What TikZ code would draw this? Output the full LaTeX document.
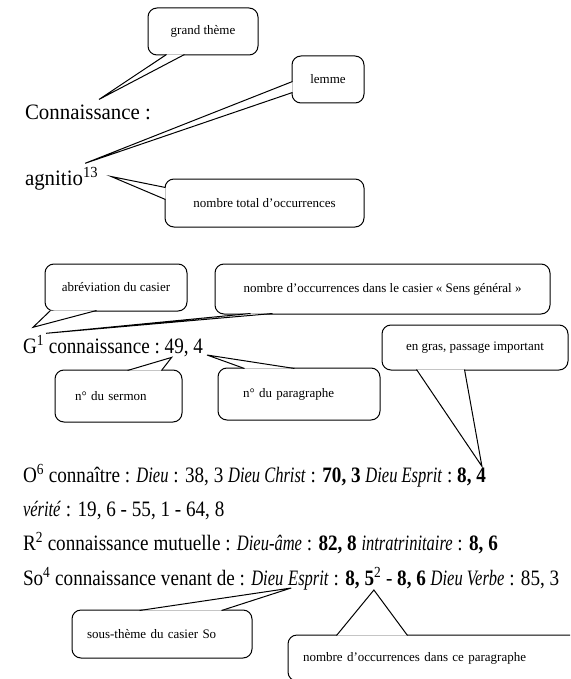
\documentclass[tikz,border=0pt]{standalone}
\usepackage{fontspec}
\setmainfont{Liberation Serif}
\newfontfamily\headfont[FakeStretch=0.95]{Liberation Serif}
\newfontfamily\entryfont[UprightFeatures={FakeStretch=0.87}, BoldFeatures={FakeStretch=0.87},
                         ItalicFeatures={FakeStretch=0.75}, BoldItalicFeatures={FakeStretch=0.75}]{Liberation Serif}
\usepackage{tikz}
\usetikzlibrary{positioning}
\tikzstyle{bubble} = [draw=black, line width=1pt, rounded corners=9pt, inner sep=2pt,
                      font=\fontsize{13}{15}\selectfont]
\tikzstyle{tail} = [draw=black, line width=1pt, fill=white, line join=miter]
\tikzstyle{heading} = [inner sep=0, outer sep=0, font=\headfont\fontsize{22}{26}\selectfont]
\tikzstyle{entry} = [inner sep=0, outer sep=0, font=\entryfont\fontsize{22}{26}\selectfont]

\begin{document}
\begin{tikzpicture}[x=1pt, y=1pt]
				\clip (0, 0) rectangle (570, -679);
				\fill[white] (0, 0) rectangle (570, -679);

				% lemme
				\node (Conn) [heading, anchor=base west] at (25, -120) {Connaissance :};
				\node (Agnitio) [heading, anchor=base west] at (25, -185) {agnitio\textsuperscript{13}};

				\node (Theme) [bubble, minimum width=110pt, minimum height=47pt] at (203, -31.5) {grand thème};
				\coordinate (ThemeTip) at ([xshift=74pt, yshift=6pt]Conn.north west);
				\draw [tail] ([xshift=19pt, yshift=1pt]Theme.south west) -- (ThemeTip) -- ([xshift=37pt, yshift=1pt]Theme.south west);

				\node (Lemme) [bubble, minimum width=72pt, minimum height=47pt] at (328, -79.5) {lemme};
				\coordinate (LemmeTip) at ([xshift=-13pt, yshift=4pt]Agnitio.north east);
				\draw [tail] ([xshift=1pt, yshift=-26pt]Lemme.north west) -- (LemmeTip) -- ([xshift=1pt, yshift=-37pt]Lemme.north west);

				\node (Total) [bubble, minimum width=199pt, minimum height=48pt] at (264.5, -203) {nombre total d’occurrences};
				\coordinate (TotalTip) at ([xshift=13pt, yshift=2pt]Agnitio.east);
				\draw [tail] ([xshift=1pt, yshift=-9pt]Total.north west) -- (TotalTip) -- ([xshift=1pt, yshift=-21pt]Total.north west);

				% casier G
				\node (G1) [entry, anchor=base west] at (23, -353) {G\textsuperscript{1}};
				\node (GConn) [entry, base right=4.8pt of G1] {connaissance :};
				\node (GSermon) [entry, base right=4.8pt of GConn] {49,};
				\node (GPar) [entry, base right=4.8pt of GSermon] {4};

				\node (Abrev) [bubble, minimum width=142pt, minimum height=47pt] at (116, -287.5) {abréviation du casier};
				\coordinate (AbrevTip) at ([xshift=10pt, yshift=8pt]G1.north west);
				\draw [tail] ([xshift=6pt, yshift=1pt]Abrev.south west) -- (AbrevTip) -- ([xshift=52pt, yshift=1pt]Abrev.south west);

				\node (Sens) [bubble, minimum width=335pt, minimum height=50pt] at (382.5, -289) {nombre d’occurrences dans le casier «~Sens général~»};
				\coordinate (SensTip) at ([xshift=2pt, yshift=2pt]G1.north east);
				\draw [tail] ([xshift=36pt, yshift=1pt]Sens.south west) -- (SensTip) -- ([xshift=58pt, yshift=1pt]Sens.south west);

				\node (Sermon) [bubble, minimum width=127pt, minimum height=52pt, inner xsep=20pt, text width=87pt, align=left] at (118.5, -396) {n° du sermon};
				\coordinate (SermonTip) at ([xshift=-5pt, yshift=-1pt]GSermon.south);
				\draw [tail] ([xshift=73pt, yshift=-1pt]Sermon.north west) -- (SermonTip) -- ([xshift=107pt, yshift=-1pt]Sermon.north west);

				\node (Par) [bubble, minimum width=162pt, minimum height=52pt, inner xsep=25pt, text width=112pt, align=left] at (299, -394) {n° du paragraphe};
				\coordinate (ParTip) at ([xshift=4pt, yshift=-2pt]GPar.base east);
				\draw [tail] ([xshift=27pt, yshift=-1pt]Par.north west) -- (ParTip) -- ([xshift=77pt, yshift=-1pt]Par.north west);

				% autres casiers
				\node (O6) [entry, anchor=base west] at (23, -482) {O\textsuperscript{6} connaître : \textit{Dieu} : 38, 3 \textit{Dieu Christ} : \textbf{70, 3} \textit{Dieu Esprit} :};
				\node (O6End) [entry, base right=4.8pt of O6] {\textbf{8, 4}};
				\node (Verite) [entry, anchor=base west] at (23, -516) {\textit{vérité} : 19, 6 - 55, 1 - 64, 8};
				\node (R2) [entry, anchor=base west] at (23, -550) {R\textsuperscript{2} connaissance mutuelle : \textit{Dieu-âme} : \textbf{82, 8} \textit{intratrinitaire} : \textbf{8, 6}};
				\node (So4) [entry, anchor=base west] at (23, -585) {So\textsuperscript{4} connaissance venant de : \textit{Dieu}};
				\node (So4Esprit) [entry, base right=4.8pt of So4] {\textit{Esprit}};
				\node (So4Num) [entry, base right=4.8pt of So4Esprit] {: \textbf{8,}};
				\node (So4Five) [entry, base right=4.8pt of So4Num] {\textbf{5}\textsuperscript{2}};
				\node (So4Rest) [entry, base right=4.8pt of So4Five] {- \textbf{8, 6} \textit{Dieu Verbe} : 85, 3};

				\node (Gras) [bubble, minimum width=186pt, minimum height=45pt] at (475, -347.5) {en gras, passage important};
				\coordinate (GrasTip) at ([xshift=-4pt, yshift=1pt]O6End.north east);
				\draw [tail] ([xshift=35pt, yshift=1pt]Gras.south west) -- (GrasTip) -- ([xshift=83pt, yshift=1pt]Gras.south west);

				\node (SousTheme) [bubble, minimum width=180pt, minimum height=48pt, inner xsep=15pt, text width=150pt, align=left] at (162, -634) {sous-thème du casier So};
				\coordinate (SousThemeTip) at ([xshift=3pt, yshift=-3pt]So4Esprit.base west);
				\draw [tail] ([xshift=68pt, yshift=-1pt]SousTheme.north west) -- (SousThemeTip) -- ([xshift=150pt, yshift=-1pt]SousTheme.north west);

				\node (Count) [bubble, minimum width=312pt, minimum height=46pt, inner xsep=15pt, text width=282pt, align=left] at (444, -658) {nombre d’occurrences dans ce paragraphe};
				\coordinate (CountTip) at ([xshift=1pt, yshift=-5pt]So4Five.base);
				\draw [tail] ([xshift=49pt, yshift=-1pt]Count.north west) -- (CountTip) -- ([xshift=120pt, yshift=-1pt]Count.north west);
			\end{tikzpicture}
\end{document}
